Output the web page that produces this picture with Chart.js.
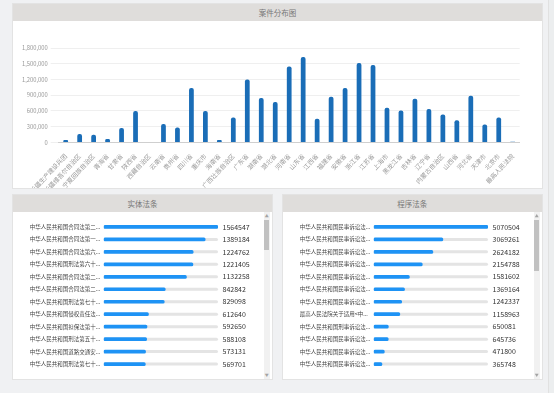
<!DOCTYPE html>
<html>
<head>
<meta charset="utf-8">
<script src="https://cdn.jsdelivr.net/npm/chart.js@4.4.0/dist/chart.umd.min.js"></script>
<style>
  body { margin: 0; width: 554px; height: 393px; overflow: hidden; position: relative; background: #f0f1f3; font-family: "Noto Sans CJK SC", sans-serif; }
  .panel { position: absolute; background: #fff; box-shadow: 0 0 0 1px #e3e3e3; }
  .head { height: 17px; line-height: 17px; background: #dfdddb; color: #777; font-size: 7.5px; text-align: center; }
  .body { position: absolute; left: 0; top: 17px; }
  .sb { position: absolute; width: 6px; top: 17px; bottom: 0; background: #f1f1f1; }
  .sb .thumb { position: absolute; left: 0.5px; width: 5px; background: #c1c1c1; }
  .sb .arr { position: absolute; left: 0; width: 6px; text-align: center; font-size: 4px; line-height: 4px; color: #a3a3a3; }
  .pagebar { position: absolute; left: 548px; top: 0; width: 6px; height: 393px; background: #eceeef; border-left: 1px solid #e1e1e1; }
</style>
</head>
<body>

<div class="panel" style="left:13.3px;top:4px;width:528.4px;height:184px">
  <div class="head">案件分布图</div>
  <div class="body" style="width:528px;height:167px"><canvas id="caseChart"></canvas></div>
</div>

<div class="panel" style="left:13.3px;top:195px;width:258.4px;height:184px">
  <div class="head">实体法条</div>
  <div class="body" style="width:258px;height:167px"><canvas id="substChart"></canvas></div>
  <div class="sb" style="left:250.5px">
    <div class="arr" style="top:2px">▲</div>
    <div class="thumb" style="top:8px;height:30px"></div>
    <div class="arr" style="bottom:2px">▼</div>
  </div>
</div>

<div class="panel" style="left:282.7px;top:195px;width:259px;height:184px">
  <div class="head">程序法条</div>
  <div class="body" style="width:258px;height:167px"><canvas id="procChart"></canvas></div>
  <div class="sb" style="left:251px">
    <div class="arr" style="top:2px">▲</div>
    <div class="thumb" style="top:8px;height:51px"></div>
    <div class="arr" style="bottom:2px">▼</div>
  </div>
</div>

<div class="pagebar"></div>

<script>
// 案件分布
const provinces = ['新疆生产建设兵团', '新疆维吾尔自治区', '宁夏回族自治区', '青海省', '甘肃省', '陕西省', '西藏自治区',
  '云南省', '贵州省', '四川省', '重庆市', '海南省', '广西壮族自治区', '广东省', '湖南省', '湖北省', '河南省', '山东省',
  '江西省', '福建省', '安徽省', '浙江省', '江苏省', '上海市', '黑龙江省', '吉林省', '辽宁省', '内蒙古自治区', '山西省',
  '河北省', '天津市', '北京市', '最高人民法院'];
const caseCounts = [45000, 160000, 147000, 65000, 275000, 599000, 10000, 351000, 286000, 1037000, 599000, 46000,
  477000, 1201000, 847000, 770000, 1449000, 1628000, 452000, 871000, 1037000, 1514000, 1476000, 662000, 610000,
  833000, 637000, 534000, 420000, 890000, 343000, 477000, 12000];
const caseTicks = [0, 300000, 600000, 900000, 1200000, 1500000, 1800000];

// 实体法条
const substLaws = ['中华人民共和国合同法第二...', '中华人民共和国合同法第一...', '中华人民共和国合同法第六...',
  '中华人民共和国刑法第六十...', '中华人民共和国合同法第二...', '中华人民共和国合同法第二...', '中华人民共和国刑法第七十...',
  '中华人民共和国侵权责任法...', '中华人民共和国担保法第十...', '中华人民共和国刑法第五十...', '中华人民共和国道路交通安...',
  '中华人民共和国刑法第七十...'];
const substCounts = [1564547, 1389184, 1224762, 1221405, 1132258, 842842, 829098, 612640, 592650, 588108, 573131, 569701];

// 程序法条
const procLaws = ['中华人民共和国民事诉讼法...', '中华人民共和国民事诉讼法...', '中华人民共和国民事诉讼法...',
  '中华人民共和国民事诉讼法...', '中华人民共和国民事诉讼法...', '中华人民共和国民事诉讼法...', '中华人民共和国民事诉讼法...',
  '最高人民法院关于适用<中...', '中华人民共和国刑事诉讼法...', '中华人民共和国民事诉讼法...', '中华人民共和国民事诉讼法...',
  '中华人民共和国民事诉讼法...'];
const procCounts = [5070504, 3069261, 2624182, 2154788, 1581602, 1369164, 1242337, 1158963, 650081, 645736, 471800, 365748];

const FONT = '"Noto Sans CJK SC", sans-serif';

new Chart(document.getElementById('caseChart'), {
  type: 'bar',
  data: {
    labels: provinces,
    datasets: [{
      data: caseCounts,
      backgroundColor: '#1a6db7',
      borderRadius: { topLeft: 2, topRight: 2 },
      borderSkipped: 'bottom',
      categoryPercentage: 1,
      barPercentage: 0.34
    }]
  },
  options: {
    responsive: true,
    maintainAspectRatio: false,
    animation: false,
    layout: { padding: { top: 27, right: 21.3, left: 0, bottom: 0 } },
    plugins: { legend: { display: false }, tooltip: { enabled: false } },
    scales: {
      x: {
        grid: { display: false },
        border: { color: '#cfcfcf' },
        ticks: {
          autoSkip: false, minRotation: 47, maxRotation: 47, padding: 2,
          color: '#9a9a9a', font: { family: FONT, size: 6.3 }
        },
        afterFit: s => { s.height = 45.6; }
      },
      y: {
        min: 0, max: 1800000,
        grid: { color: '#efefef' },
        border: { display: false },
        afterBuildTicks: s => { s.ticks = caseTicks.map(v => ({ value: v })); },
        ticks: {
          padding: 3, color: '#999', font: { family: FONT, size: 5.8 },
          callback: v => v.toLocaleString('en-US')
        },
        afterFit: s => { s.width = 45.7; }
      }
    }
  }
});

// grey track behind each list bar
const trackPlugin = {
  id: 'track',
  beforeDatasetsDraw(chart) {
    const { ctx, chartArea, scales } = chart;
    ctx.save();
    ctx.fillStyle = '#e4e4e4';
    chart.data.labels.forEach((l, i) => {
      const y = scales.y.getPixelForValue(i);
      ctx.beginPath();
      ctx.roundRect(chartArea.left, y - 1.5, chartArea.right - chartArea.left, 3, 1.5);
      ctx.fill();
    });
    ctx.restore();
  }
};

function listChart(id, names, counts) {
  return new Chart(document.getElementById(id), {
    type: 'bar',
    data: {
      labels: names,
      datasets: [{
        data: counts,
        backgroundColor: '#1e93f5',
        barThickness: 3,
        borderRadius: 1.5,
        borderSkipped: false
      }]
    },
    plugins: [trackPlugin],
    options: {
      indexAxis: 'y',
      responsive: true,
      maintainAspectRatio: false,
      animation: false,
      layout: { padding: { top: 4.6, bottom: 2.4, left: 16.7, right: 13 } },
      plugins: { legend: { display: false }, tooltip: { enabled: false } },
      scales: {
        x: { display: false, min: 0, max: Math.max(...counts) },
        y: {
          grid: { display: false, drawTicks: false },
          border: { display: false },
          ticks: {
            autoSkip: false, crossAlign: 'far', padding: 0,
            color: '#444', font: { family: FONT, size: 5.5 }
          },
          afterFit: s => { s.width = 74; }
        },
        y2: {
          type: 'category',
          position: 'right',
          labels: counts.map(String),
          grid: { display: false, drawTicks: false },
          border: { display: false },
          ticks: {
            autoSkip: false, padding: 4.5,
            color: '#333', font: { family: FONT, size: 7 }
          },
          afterFit: s => { s.width = 40; }
        }
      }
    }
  });
}

listChart('substChart', substLaws, substCounts);
listChart('procChart', procLaws, procCounts);
</script>
</body>
</html>
